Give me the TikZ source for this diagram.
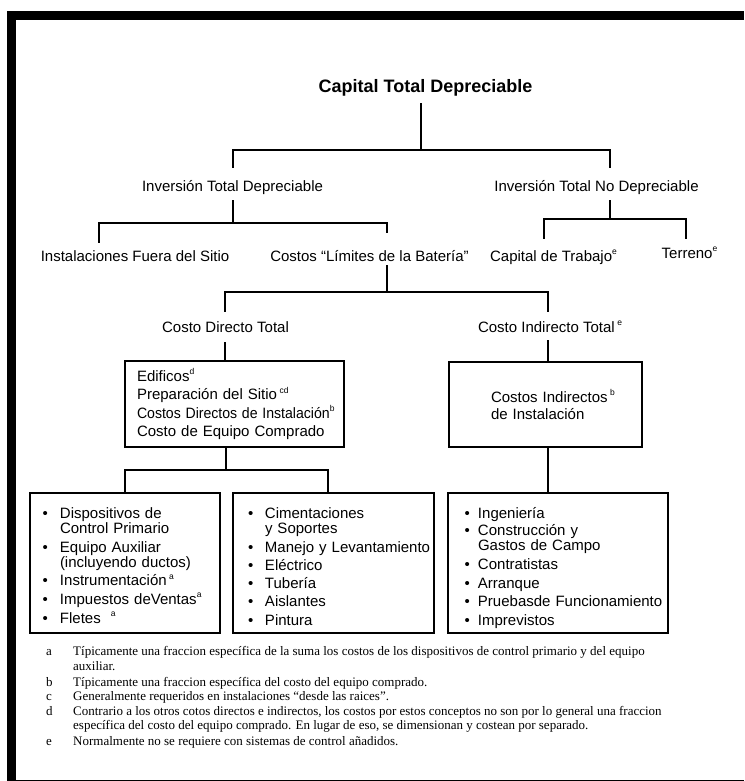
\documentclass[tikz,border=0pt]{standalone}
\usepackage{fontspec}
\usepackage{graphicx}
\setmainfont{Liberation Sans}
\newfontfamily\fnserif{Liberation Serif}
\usetikzlibrary{calc}
\newcommand\sups[1]{\raisebox{0.45em}{\fontsize{8.5}{8.5}\selectfont #1}}
\newcommand\bul[1]{\makebox[#1][l]{•}}
\newcommand\lin[1]{\mbox{#1}}
\begin{document}
\begin{tikzpicture}[x=1pt,y=-1pt,
  conn/.style={line width=2pt, line join=miter},
  lbl/.style={font=\fontsize{15}{18}\selectfont, inner sep=0pt, anchor=base},
  ttl/.style={font=\fontsize{18}{22}\selectfont\bfseries, inner sep=0pt, anchor=base},
  boxn/.style={draw, line width=2pt, inner ysep=0pt, align=left, font=\fontsize{15}{15}\selectfont},
  fnl/.style={font=\fnserif\fontsize{13}{15}\selectfont, inner sep=0pt, anchor=base west},
]
\useasboundingbox (0,0) rectangle (744,781);
% frame
\fill (7,11) rectangle (744,20);
\fill (7,11) rectangle (16,781);
\fill (7,779.7) rectangle (744,781);

% text nodes
\node[ttl, text height=14pt, text depth=10pt] (title) at (425.5,93) {Capital Total Depreciable};
\node[lbl, text height=23pt, text depth=9pt] (invdep) at (232.5,191) {Inversión Total Depreciable};
\node[lbl, text height=23pt, text depth=9pt] (invnodep) at (596.5,191) {Inversión Total No Depreciable};
\node[lbl, text height=18pt, text depth=4pt] (instal) at (135,261) {Instalaciones Fuera del Sitio};
\node[lbl, text height=28pt, text depth=4pt] (limites) at (369.5,261) {Costos “Límites de la Batería”};
\node[lbl, text height=22pt, text depth=4pt] (captrab) at (553.5,261) {Capital de Trabajo\sups{e}};
\node[lbl, text height=19pt, text depth=4pt] (terreno) at (689.5,258) {Terreno\sups{e}};
\node[lbl, text height=20pt, text depth=10pt] (cdt) at (225.5,332) {Costo Directo Total};
\node[lbl, text height=20pt, text depth=8pt] (cit) at (550,332) {Costo Indirecto Total\,\sups{e}};

% boxes
\node[boxn, minimum width=219pt, minimum height=86pt, inner xsep=12pt, text width=195pt, font=\fontsize{15}{18.3}\selectfont] (box1) at (234.5,404)
  {\lin{Edificos\sups{d}}\\ \lin{Preparación del Sitio\,\sups{cd}}\\ \lin{\scalebox{0.94}[1]{Costos Directos de Instalación}\sups{b}}\\ \lin{Costo de Equipo Comprado}};
\node[boxn, minimum width=193pt, minimum height=85pt, inner xsep=42pt, text width=109pt, font=\fontsize{15}{17}\selectfont] (box2) at (545.5,404.5)
  {\lin{Costos Indirectos\,\sups{b}}\\ \lin{de Instalación}};
\node[boxn, minimum width=190pt, minimum height=140pt, inner xsep=12.5pt, text width=165pt] (box3) at (125,563)
  {\lin{\rule{0pt}{16pt}\bul{17.5pt}Dispositivos de}\\
   \lin{\hspace*{17.5pt}Control Primario}\\[3.7pt]
   \lin{\bul{17.5pt}Equipo Auxiliar}\\
   \lin{\hspace*{17.5pt}(incluyendo ductos)}\\[3.7pt]
   \lin{\bul{17.5pt}Instrumentación\,\sups{a}}\\[3.7pt]
   \lin{\bul{17.5pt}Impuestos deVentas\sups{a}}\\[3.7pt]
   \lin{\bul{17.5pt}Fletes\ \ \sups{a}}};
\node[boxn, minimum width=201pt, minimum height=140pt, inner xsep=15pt, text width=171pt] (box4) at (333.5,563)
  {\lin{\rule{0pt}{18pt}\bul{17pt}Cimentaciones}\\
   \lin{\hspace*{17pt}y Soportes}\\[3.7pt]
   \lin{\bul{17pt}Manejo y Levantamiento}\\[3.2pt]
   \lin{\bul{17pt}Eléctrico}\\[3.2pt]
   \lin{\bul{17pt}Tubería}\\[3.2pt]
   \lin{\bul{17pt}Aislantes}\\[3.2pt]
   \lin{\bul{17pt}Pintura}};
\node[boxn, minimum width=220pt, minimum height=140pt, inner xsep=16.5pt, text width=187pt] (box5) at (558,563)
  {\lin{\rule{0pt}{21pt}\bul{13.5pt}Ingeniería}\\[2pt]
   \lin{\bul{13.5pt}Construcción y}\\
   \lin{\hspace*{13.5pt}Gastos de Campo}\\[4pt]
   \lin{\bul{13.5pt}Contratistas}\\[3.5pt]
   \lin{\bul{13.5pt}Arranque}\\[3.5pt]
   \lin{\bul{13.5pt}Pruebasde Funcionamiento}\\[3.5pt]
   \lin{\bul{13.5pt}Imprevistos}};

% connectors
\coordinate (j1) at (421,150); \coordinate (j1r) at (610,150);
\draw[conn] (title.south -| j1) -- (j1);
\draw[conn] (invdep.north) |- (j1r) -- (j1r |- invnodep.north);
\coordinate (j2l) at (99,223); \coordinate (j2r) at (387,223);
\draw[conn] (invdep.south) -- (invdep.south |- j2l);
\draw[conn] (j2l |- instal.north) -- (j2l) -- (j2r) -- (j2r |- limites.north);
\coordinate (j3) at (610,219); \coordinate (j3l) at (544,219); \coordinate (j3r) at (686,219);
\draw[conn] (j3 |- invnodep.south) -- (j3);
\draw[conn] (j3l |- captrab.north) -- (j3l) -- (j3r) -- (j3r |- terreno.north);
\coordinate (j4) at (387,292); \coordinate (j4l) at (225,292); \coordinate (j4r) at (548,292);
\draw[conn] (j4 |- limites.south) -- (j4);
\draw[conn] (j4l |- cdt.north) -- (j4l) -- (j4r) -- (j4r |- cit.north);
\draw[conn] (j4l |- cdt.south) -- (j4l |- box1.north);
\draw[conn] (j4r |- cit.south) -- (j4r |- box2.north);
\coordinate (j7) at (226,470); \coordinate (j7l) at (125,470); \coordinate (j7r) at (328,470);
\draw[conn] (j7 |- box1.south) -- (j7);
\draw[conn] (j7l |- box3.north) -- (j7l) -- (j7r) -- (j7r |- box4.north);
\draw[conn] (j4r |- box2.south) -- (j4r |- box5.north);

% footnotes
\node[fnl] (fa) at (46,655) {a};
\node[fnl] (ta1) at (73,655) {Típicamente una fraccion específica de la suma los costos de los dispositivos de control primario y del equipo};
\node[fnl] (ta2) at (73,670) {auxiliar.};
\node[fnl] (fb) at (46,686) {b};
\node[fnl] (tb) at (73,686) {Típicamente una fraccion específica del costo del equipo comprado.};
\node[fnl] (fc) at (46,700) {c};
\node[fnl] (tc) at (73,700) {Generalmente requeridos en instalaciones “desde las raices”.};
\node[fnl] (fd) at (46,715) {d};
\node[fnl] (td1) at (73,715) {Contrario a los otros cotos directos e indirectos, los costos por estos conceptos no son por lo general una fraccion};
\node[fnl] (td2) at (73,729) {específica del costo del equipo comprado. En lugar de eso, se dimensionan y costean por separado.};
\node[fnl] (fe) at (46,745) {e};
\node[fnl] (te) at (73,745) {Normalmente no se requiere con sistemas de control añadidos.};
\end{tikzpicture}
\end{document}
